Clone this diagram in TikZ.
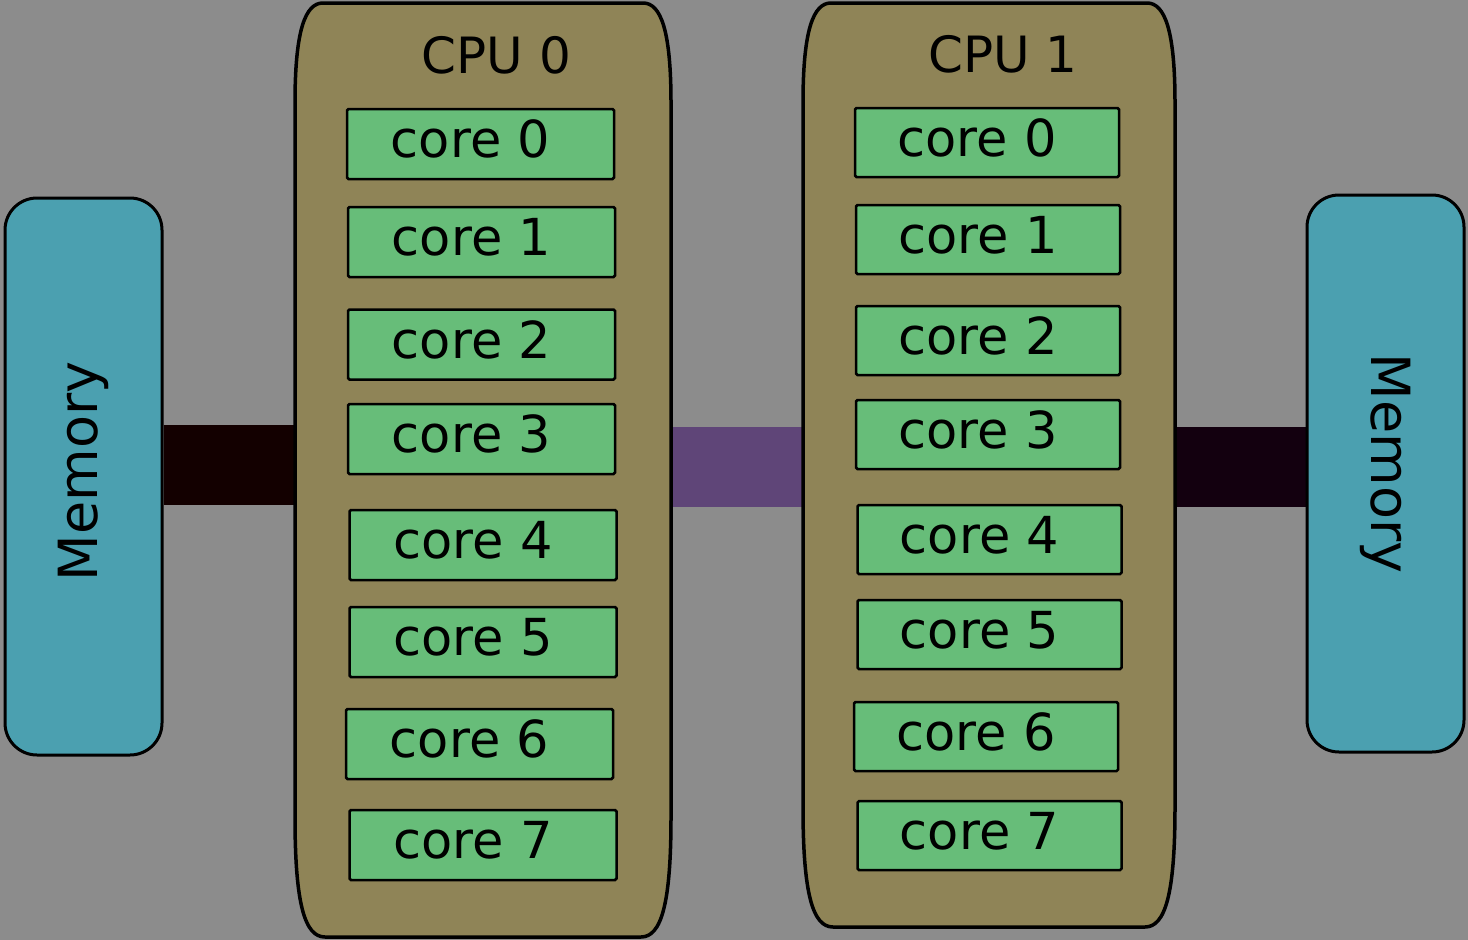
\documentclass[tikz,border=0pt]{standalone}
\usepackage{fontspec}
\setmainfont{DejaVu Sans}
\usepackage{tikz}
\usetikzlibrary{calc,backgrounds}
\definecolor{canvas}{HTML}{8C8C8C}
\definecolor{socket}{HTML}{8F8457}
\definecolor{corefill}{HTML}{67BD79}
\definecolor{memfill}{HTML}{4BA0B0}
\definecolor{qpi}{HTML}{5F4578}
\definecolor{membusl}{HTML}{130000}
\definecolor{membusr}{HTML}{13000F}

% socket outline: straight sides, tall soft corners
\newcommand\socketshape[1]{%
  \draw[socketedge]
    ($(#1.north west)+(0,100)$)
      .. controls ($(#1.north west)+(0,28)$) and ($(#1.north west)+(10,0)$) .. ($(#1.north west)+(28,0)$)
    -- ($(#1.north east)+(-28,0)$)
      .. controls ($(#1.north east)+(-10,0)$) and ($(#1.north east)+(0,28)$) .. ($(#1.north east)+(0,100)$)
    -- ($(#1.south east)+(0,-120)$)
      .. controls ($(#1.south east)+(0,-32)$) and ($(#1.south east)+(-10,0)$) .. ($(#1.south east)+(-30,0)$)
    -- ($(#1.south west)+(30,0)$)
      .. controls ($(#1.south west)+(10,0)$) and ($(#1.south west)+(0,-32)$) .. ($(#1.south west)+(0,-120)$)
    -- cycle;}

\begin{document}
\begin{tikzpicture}[
  x=1pt,y=-1pt,
  socket/.style={rectangle,draw=none,outer sep=0pt,inner sep=0pt},
  socketedge/.style={draw=black,line width=3.5pt,fill=socket},
  socketname/.style={font=\fontsize{50}{58}\selectfont,inner sep=0pt},
  corebox/.style={draw=black,line width=2.5pt,fill=corefill,rounded corners=1.5pt,
    minimum width=267pt,minimum height=70pt,inner sep=0pt,text depth=10pt,
    font=\fontsize{51}{60}\selectfont,execute at begin node={\hspace*{-20pt}}},
  membox/.style={draw=black,line width=3pt,fill=memfill,rounded corners=32pt,
    minimum width=557pt,minimum height=157pt,inner sep=0pt,
    font=\fontsize{54}{62}\selectfont},
  bus/.style={line width=80pt}
]
  \useasboundingbox (0,0) rectangle (1468,940);

  \node[membox,rotate=90] (memL) at (83.5,476.5) {\hspace*{10pt}Memory};
  \node[membox,rotate=-90] (memR) at (1385.5,473.5) {Memory\hspace*{20pt}};

  \node[socket,minimum width=376pt,minimum height=934pt] (cpu0) at (483,470) {};
  \node[socket,minimum width=372pt,minimum height=924pt] (cpu1) at (989,465) {};
  \socketshape{cpu0}
  \socketshape{cpu1}

  \node[socketname,anchor=base] (cpu0name) at ([xshift=13.5pt,yshift=-70pt]cpu0.north) {CPU 0};
  \node[socketname,anchor=base] (cpu1name) at ([xshift=14pt,yshift=-69pt]cpu1.north) {CPU 1};

  \foreach \i/\x/\y in {0/480.5/144,1/481.5/242,2/481.5/344.5,3/481.5/439,
                        4/483/545,5/483/642,6/479.5/744,7/483/845}
    \node[corebox] (c0core\i) at (\x,\y) {core \i};
  \foreach \i/\x/\y in {0/987/142.5,1/988/239.5,2/988/340.5,3/988/434.5,
                        4/989.5/539.5,5/989.5/634.5,6/986/736.5,7/989.5/835.5}
    \node[corebox,minimum width=264pt,minimum height=69pt] (c1core\i) at (\x,\y) {core \i};

  \coordinate (busL) at (0,465);
  \coordinate (busM) at (0,466.5);
  \coordinate (busR) at (0,467);

  \begin{pgfonlayer}{background}
    \fill[canvas] (0,0) rectangle (1468,940);
    \draw[bus,draw=membusl] (memL.south |- busL) -- (cpu0.west |- busL);
    \draw[bus,draw=qpi] (cpu0.east |- busM) -- (cpu1.west |- busM);
    \draw[bus,draw=membusr] (cpu1.east |- busR) -- (memR.south |- busR);
  \end{pgfonlayer}
\end{tikzpicture}
\end{document}
